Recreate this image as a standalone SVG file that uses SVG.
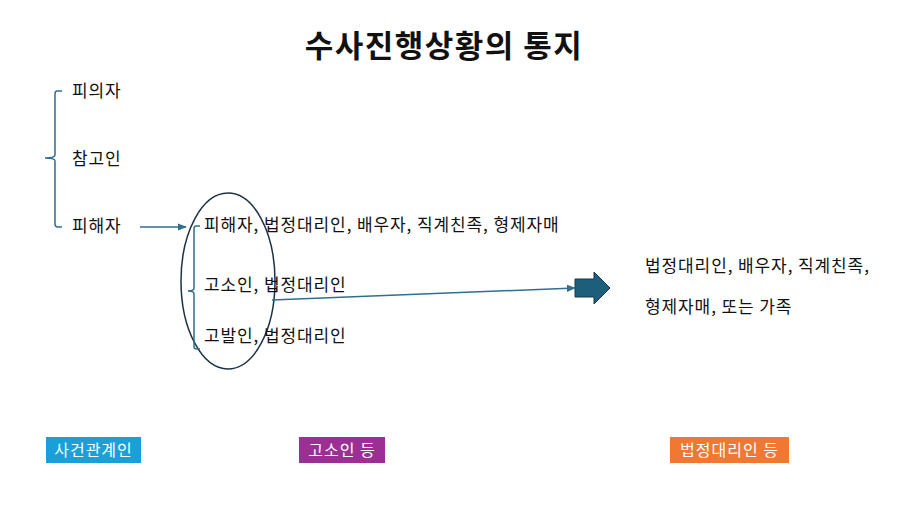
<svg xmlns="http://www.w3.org/2000/svg" width="900" height="506" viewBox="0 0 900 506">
<defs>
<style>
text{font-family:"Noto Sans CJK KR","Noto Sans",sans-serif;font-size:17px;letter-spacing:0.9px;fill:#111}
.t{font-size:31px;font-weight:bold;text-anchor:middle;letter-spacing:1.5px}
.lab{fill:#fff;font-size:16px;text-anchor:middle;letter-spacing:1px}
.br{fill:none;stroke:#2f6f8f;stroke-width:1.5}
</style>
<marker id="ah" viewBox="0 0 10 10" refX="9" refY="5" markerWidth="6" markerHeight="6" orient="auto"><path d="M0,1L10,5L0,9z" fill="#2f6f8f"/></marker>
</defs>
<rect width="900" height="506" fill="#fff"/>
<text class="t" x="444" y="57">수사진행상황의 통지</text>
<g id="left">
<path class="br" d="M62,91 H57 Q55,91 55,94 V155 Q55,158 45,158 Q55,158 55,161 V224 Q55,227 58,227 H62"/>
<text x="72" y="97">피의자</text>
<text x="72" y="165">참고인</text>
<text x="72" y="232">피해자</text>
</g>
<g id="middle">
<ellipse cx="228" cy="281" rx="47" ry="88" fill="none" stroke="#1c3344" stroke-width="1.5"/>
<path class="br" d="M200,226 H196 Q194,226 194,229 V288 Q194,291 188,291 Q194,291 194,294 V347 Q194,349 197,349 H200"/>
<text x="204" y="231">피해자, 법정대리인, 배우자, 직계친족, 형제자매</text>
<text x="204" y="291">고소인, 법정대리인</text>
<text x="204" y="342">고발인, 법정대리인</text>
</g>
<g id="right">
<path d="M575,279 H594 V272 L610,288 L594,304 V297 H575z" fill="#1d5e7b" stroke="#123a4c" stroke-width="1"/>
<text x="645" y="272">법정대리인, 배우자, 직계친족,</text>
<text x="645" y="313">형제자매, 또는 가족</text>
</g>
<g id="connectors">
<line class="br" x1="140" y1="227" x2="186" y2="227" marker-end="url(#ah)"/>
<line class="br" x1="272" y1="300" x2="575" y2="288" marker-end="url(#ah)"/>
</g>
<g id="labels">
<rect x="46" y="437" width="95" height="26" fill="#1a9fd8"/>
<text class="lab" x="93.5" y="456">사건관계인</text>
<rect x="299" y="437" width="86" height="26" fill="#9b2f94"/>
<text class="lab" x="342" y="456">고소인 등</text>
<rect x="670" y="437" width="119" height="26" fill="#f07833"/>
<text class="lab" x="729.5" y="456">법정대리인 등</text>
</g>
</svg>
